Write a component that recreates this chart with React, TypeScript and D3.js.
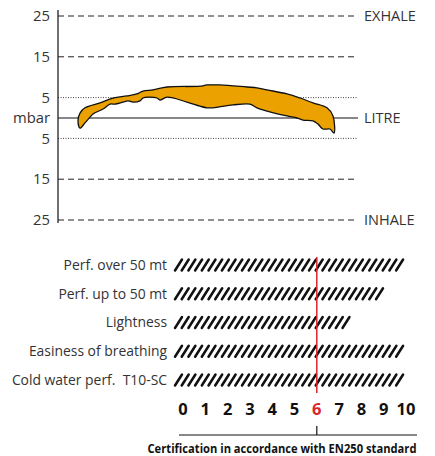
import React from "react";
import * as d3 from "d3";

// breathing loop, x = volume (arbitrary 0..300), y = mbar
const exhaleCurve: [number, number][] = [
  [20, -0.7], [22, 1.2], [27, 2.5], [42, 3.7], [55, 4.9], [69, 5.4], [79, 5.9],
  [85, 6.6], [95, 6.9], [109, 7.6], [142, 7.8], [149, 8.1], [162, 8.1],
  [189, 7.6], [199, 7.4], [209, 6.9], [229, 5.9], [242, 4.9], [255, 3.7],
  [269, 2.5], [275, 0.5], [276, -3.7],
];
const inhaleCurve: [number, number][] = [
  [272, -2.7], [265, -2.7], [260, -1.5], [255, -0.7], [245, -0.5], [239, 0],
  [229, 0.5], [209, 1.7], [199, 2.5], [192, 3.4], [175, 3.2], [155, 2.5],
  [149, 2.5], [142, 2.9], [129, 3.9], [109, 5.1], [102, 4.4], [99, 4.9],
  [90, 5.1], [85, 4.9], [82, 4.2], [75, 3.9], [70, 4.2], [65, 3.9], [57, 3.4],
  [52, 3.4], [45, 2.2], [35, 1.0], [32, 0.2], [27, -1.2], [22, -2.5],
];

const dashedLevels = [25, 15, -15, -25];
const dottedLevels = [5, -5];
const leftLabels = [
  { v: 25, t: "25" }, { v: 15, t: "15" }, { v: 5, t: "5" }, { v: 0, t: "mbar" },
  { v: -5, t: "5" }, { v: -15, t: "15" }, { v: -25, t: "25" },
];
const rightLabels = [
  { v: 25, t: "EXHALE" }, { v: 0, t: "LITRE" }, { v: -25, t: "INHALE" },
];

const criteria = [
  "Perf. over 50 mt",
  "Perf. up to 50 mt",
  "Lightness",
  "Easiness of breathing",
  "Cold water perf.  T10-SC",
];
const scores = [10, 9, 7.6, 10, 10];
const scoreTicks = d3.range(0, 11);
const certified = 6;

const font = "'Open Sans', sans-serif";

export default function App() {
  const x = d3.scaleLinear().domain([0, 300]).range([58, 358]);
  const y = d3.scaleLinear().domain([-25, 25]).range([220, 16]);

  const loop = d3
    .line<[number, number]>()
    .x((d) => x(d[0]))
    .y((d) => y(d[1]))
    .curve(d3.curveCatmullRomClosed.alpha(0.5));

  const sx = d3.scaleLinear().domain([0, 10]).range([183, 406]);
  const row = d3.scalePoint<string>().domain(criteria).range([265, 380]);

  const barH = 11;
  const step = 6.7;
  const lean = 7;

  return (
    <svg width={435} height={456} style={{ position: "absolute", left: 0, top: 0 }}>
      {/* grid */}
      {dashedLevels.map((v) => (
        <line key={"d" + v} x1={58} x2={358} y1={y(v)} y2={y(v)}
          stroke="#222" strokeWidth={1} strokeDasharray="6,4" />
      ))}
      {dottedLevels.map((v) => (
        <line key={"o" + v} x1={58} x2={358} y1={y(v)} y2={y(v)}
          stroke="#444" strokeWidth={1} strokeDasharray="1,1.5" />
      ))}
      <line x1={58} x2={358} y1={y(0)} y2={y(0)} stroke="#111" strokeWidth={1.2} />
      <line x1={58} x2={58} y1={10} y2={223} stroke="#111" strokeWidth={1.2} />

      <path d={loop([...exhaleCurve, ...inhaleCurve]) || ""} fill="#eba100"
        stroke="#111" strokeWidth={1.3} strokeLinejoin="round" />

      {leftLabels.map((l) => (
        <text key={"l" + l.v} x={50} y={y(l.v)} dy="0.35em" textAnchor="end"
          fontFamily={font} fontSize={14.8} fill="#333">{l.t}</text>
      ))}
      {rightLabels.map((l) => (
        <text key={"r" + l.v} x={364} y={y(l.v)} dy="0.35em"
          fontFamily={font} fontSize={14.5} fill="#333">{l.t}</text>
      ))}

      {/* rating bars */}
      {criteria.map((c, i) => {
        const cy = row(c)!;
        const x0 = sx(0) - 8;
        const x1 = sx(scores[i]);
        const starts = d3.range(x0, x1 - lean + 0.01, step);
        return (
          <g key={c}>
            <text x={167} y={cy} dy="0.35em" textAnchor="end" fontFamily={font}
              fontSize={13.9} fill="#333" style={{ whiteSpace: "pre" }}>{c}</text>
            {starts.map((s) => (
              <line key={s} x1={s} y1={cy + barH / 2} x2={s + lean} y2={cy - barH / 2}
                stroke="#111" strokeWidth={2.5} strokeLinecap="round" />
            ))}
          </g>
        );
      })}

      <line x1={sx(certified)} x2={sx(certified)} y1={257} y2={393}
        stroke="#d8262e" strokeWidth={1.5} />

      {scoreTicks.map((t) => (
        <text key={"t" + t} x={sx(t)} y={409} dy="0.35em" textAnchor="middle"
          fontFamily={font} fontWeight="bold" fontSize={16.5}
          fill={t === certified ? "#d8262e" : "#111"}>{t}</text>
      ))}

      <line x1={179} x2={417} y1={435} y2={435} stroke="#111" strokeWidth={1.2} />
      <line x1={sx(certified)} x2={sx(certified)} y1={426} y2={435} stroke="#111" strokeWidth={1.2} />
      <text x={282} y={449} dy="0.35em" textAnchor="middle" fontFamily={font}
        fontWeight="bold" fontSize={11.5} fill="#111" textLength={269}
        lengthAdjust="spacingAndGlyphs">Certification in accordance with EN250 standard</text>
    </svg>
  );
}
